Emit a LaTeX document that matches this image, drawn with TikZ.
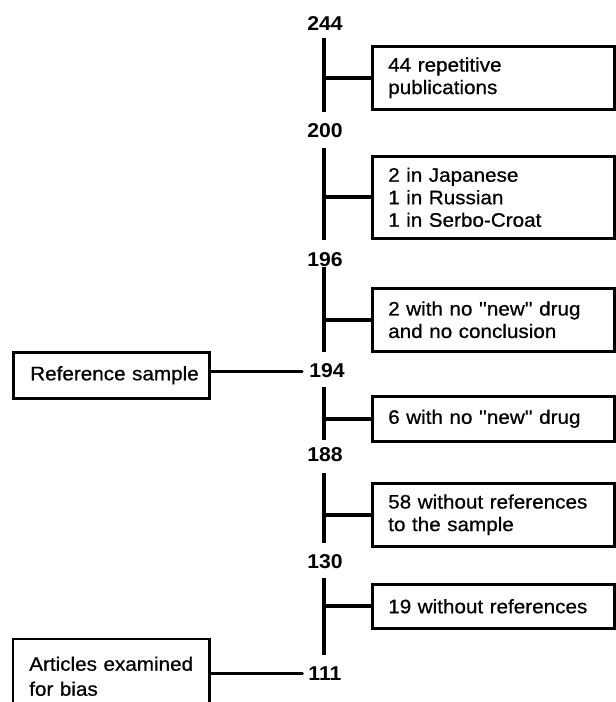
\documentclass[tikz,border=0pt]{standalone}
\usepackage{fontspec}
\setmainfont{Liberation Sans}
\newfontfamily\boxfont{Liberation Sans}[FakeStretch=1.06, FakeBold=0.7]
\newfontfamily\numfont{Liberation Sans Bold}[FakeStretch=1.06]
\begin{document}
\begin{tikzpicture}[x=1pt,y=-1pt,
  rbox/.style={draw, line width=2.5pt, minimum width=242pt, text width=210pt,
    inner xsep=16pt, inner ysep=0pt, align=left, anchor=north west,
    font=\boxfont\fontsize{19.5}{22.5}\selectfont},
  lbox/.style={draw, line width=2.5pt, inner ysep=0pt, align=left, anchor=north west,
    font=\boxfont\fontsize{19.5}{25}\selectfont},
  num/.style={inner sep=0pt, text height=13pt, text depth=0pt,
    font=\numfont\fontsize{20}{22}\selectfont},
  spine/.style={line width=4.5pt},
  branch/.style={line width=4pt},
  link/.style={line width=3pt, line cap=round}]
\useasboundingbox (0,0) rectangle (616,702);

% numbers
\node[num] (n244) at (325,23.5) {244};
\node[num] (n200) at (325,130.5) {200};
\node[num] (n196) at (325,259.5) {196};
\node[num] (n194) at (327,371) {194};
\node[num] (n188) at (325,455) {188};
\node[num] (n130) at (325,562) {130};
\node[num] (n111) at (325,673.5) {111};

% boxes on the right
\node[rbox, minimum height=63pt] (b1) at (371,45) {44 repetitive\\publications};
\node[rbox, minimum height=82pt] (b2) at (371,155) {2 in Japanese\\1 in Russian\\1 in Serbo-Croat};
\node[rbox, minimum height=63pt] (b3) at (371,287) {2 with no ''new'' drug\\and no conclusion};
\node[rbox, minimum height=45pt] (b4) at (371,395) {6 with no ''new'' drug};
\node[rbox, minimum height=63pt] (b5) at (371,482) {58 without references\\to the sample};
\node[rbox, minimum height=44pt] (b6) at (371,583) {19 without references};

% boxes on the left
\node[lbox, minimum width=196pt, minimum height=46pt, text width=162pt, inner xsep=17pt] (ref) at (12,351) {\makebox[162pt][l]{Reference sample}};
\node[lbox, draw=none, minimum width=194pt, minimum height=72pt, text width=164pt, inner xsep=15pt] (art) at (13,639) {Articles examined\\for bias};
\draw[line width=2.5pt] (art.south west) -- (art.north west) -- (art.north east) -- (art.south east);

% spine segments
\coordinate (s1a) at (324,38);  \coordinate (s1b) at (324,112);
\coordinate (s2a) at (324,148); \coordinate (s2b) at (324,240);
\coordinate (s3a) at (324,267); \coordinate (s3b) at (324,352);
\coordinate (s4a) at (324,387); \coordinate (s4b) at (324,440);
\coordinate (s5a) at (324,473); \coordinate (s5b) at (324,543);
\coordinate (s6a) at (324,578); \coordinate (s6b) at (324,655);
\foreach \i in {1,...,6} {\draw[spine] (s\i a) -- (s\i b);}

% branches to boxes
\draw[branch] (s1a |- b1.west) -- (b1.west);
\draw[branch] (s2a |- b2.west) -- (b2.west);
\draw[branch] (s3a |- b3.west) -- (b3.west);
\draw[branch] (s4a |- b4.west) -- (b4.west);
\draw[branch] (s5a |- b5.west) -- (b5.west);
\draw[branch] (s6a |- b6.west) -- (b6.west);

% links from left boxes
\draw[link] (ref.east |- n194.west) -- ([xshift=-7pt]n194.west);
\draw[link] (art.east |- n111.west) -- ([xshift=-6pt]n111.west);
\end{tikzpicture}
\end{document}
